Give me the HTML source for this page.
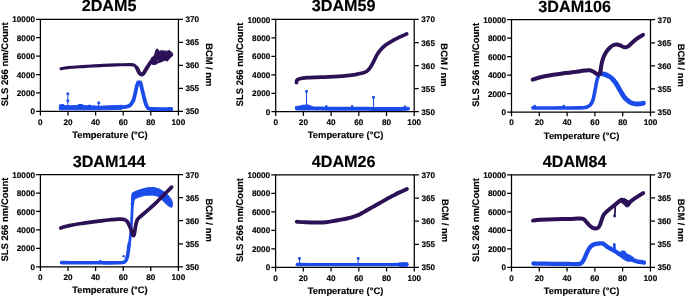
<!DOCTYPE html>
<html><head><meta charset="utf-8"><style>
html,body{margin:0;padding:0;background:#fff;width:685px;height:297px;overflow:hidden}
svg{display:block;filter:blur(0.35px)}
text{font-family:"Liberation Sans",sans-serif;font-weight:bold;stroke:#000;stroke-width:0.15px;text-rendering:geometricPrecision}
</style></head><body>
<svg width="685" height="297" viewBox="0 0 685 297" font-family="Liberation Sans, sans-serif" font-weight="bold" fill="#000">
<path d="M40.4 19.3H178.4V111.4H40.4Z" fill="none" stroke="#000" stroke-width="1.25"/>
<path d="M36.1 111.4H40.4M36.1 92.98H40.4M36.1 74.56H40.4M36.1 56.14H40.4M36.1 37.72H40.4M36.1 19.3H40.4M178.4 111.4H183M178.4 88.38H183M178.4 65.35H183M178.4 42.33H183M178.4 19.3H183M40.4 111.4V115.6M68 111.4V115.6M95.6 111.4V115.6M123.2 111.4V115.6M150.8 111.4V115.6M178.4 111.4V115.6" stroke="#000" stroke-width="1.25"/>
<text x="35" y="114.45" text-anchor="end" font-size="8.2">0</text>
<text x="35" y="96.03" text-anchor="end" font-size="8.2">2000</text>
<text x="35" y="77.61" text-anchor="end" font-size="8.2">4000</text>
<text x="35" y="59.19" text-anchor="end" font-size="8.2">6000</text>
<text x="35" y="40.77" text-anchor="end" font-size="8.2">8000</text>
<text x="35" y="22.35" text-anchor="end" font-size="8.2">10000</text>
<text x="185.5" y="114.4" font-size="8.2">350</text>
<text x="185.5" y="91.38" font-size="8.2">355</text>
<text x="185.5" y="68.35" font-size="8.2">360</text>
<text x="185.5" y="45.33" font-size="8.2">365</text>
<text x="185.5" y="22.3" font-size="8.2">370</text>
<text x="40.4" y="124.8" text-anchor="middle" font-size="8.2">0</text>
<text x="68" y="124.8" text-anchor="middle" font-size="8.2">20</text>
<text x="95.6" y="124.8" text-anchor="middle" font-size="8.2">40</text>
<text x="123.2" y="124.8" text-anchor="middle" font-size="8.2">60</text>
<text x="150.8" y="124.8" text-anchor="middle" font-size="8.2">80</text>
<text x="178.4" y="124.8" text-anchor="middle" font-size="8.2">100</text>
<text x="110" y="138" text-anchor="middle" font-size="9.4">Temperature (°C)</text>
<text x="109.1" y="11.4" text-anchor="middle" font-size="16.2">2DAM5</text>
<text transform="translate(7.7 64.25) rotate(-90)" text-anchor="middle" font-size="9.5">SLS 266 nm/Count</text>
<text transform="translate(205.6 64.75) rotate(90)" text-anchor="middle" font-size="9.4">BCM / nm</text>
<path d="M275.7 19.45H414.2V111.7H275.7Z" fill="none" stroke="#000" stroke-width="1.25"/>
<path d="M271.4 111.7H275.7M271.4 93.25H275.7M271.4 74.8H275.7M271.4 56.35H275.7M271.4 37.9H275.7M271.4 19.45H275.7M414.2 111.7H418.8M414.2 88.64H418.8M414.2 65.58H418.8M414.2 42.51H418.8M414.2 19.45H418.8M275.7 111.7V115.9M303.4 111.7V115.9M331.1 111.7V115.9M358.8 111.7V115.9M386.5 111.7V115.9M414.2 111.7V115.9" stroke="#000" stroke-width="1.25"/>
<text x="270.3" y="114.75" text-anchor="end" font-size="8.2">0</text>
<text x="270.3" y="96.3" text-anchor="end" font-size="8.2">2000</text>
<text x="270.3" y="77.85" text-anchor="end" font-size="8.2">4000</text>
<text x="270.3" y="59.4" text-anchor="end" font-size="8.2">6000</text>
<text x="270.3" y="40.95" text-anchor="end" font-size="8.2">8000</text>
<text x="270.3" y="22.5" text-anchor="end" font-size="8.2">10000</text>
<text x="421.3" y="114.7" font-size="8.2">350</text>
<text x="421.3" y="91.64" font-size="8.2">355</text>
<text x="421.3" y="68.58" font-size="8.2">360</text>
<text x="421.3" y="45.51" font-size="8.2">365</text>
<text x="421.3" y="22.45" font-size="8.2">370</text>
<text x="275.7" y="125.1" text-anchor="middle" font-size="8.2">0</text>
<text x="303.4" y="125.1" text-anchor="middle" font-size="8.2">20</text>
<text x="331.1" y="125.1" text-anchor="middle" font-size="8.2">40</text>
<text x="358.8" y="125.1" text-anchor="middle" font-size="8.2">60</text>
<text x="386.5" y="125.1" text-anchor="middle" font-size="8.2">80</text>
<text x="414.2" y="125.1" text-anchor="middle" font-size="8.2">100</text>
<text x="345.55" y="138.3" text-anchor="middle" font-size="9.4">Temperature (°C)</text>
<text x="343.65" y="11.4" text-anchor="middle" font-size="16.2">3DAM59</text>
<text transform="translate(243 64.48) rotate(-90)" text-anchor="middle" font-size="9.5">SLS 266 nm/Count</text>
<text transform="translate(441.4 64.98) rotate(90)" text-anchor="middle" font-size="9.4">BCM / nm</text>
<path d="M511.5 19.7H650.5V112H511.5Z" fill="none" stroke="#000" stroke-width="1.25"/>
<path d="M507.2 112H511.5M507.2 93.54H511.5M507.2 75.08H511.5M507.2 56.62H511.5M507.2 38.16H511.5M507.2 19.7H511.5M650.5 112H655.1M650.5 88.92H655.1M650.5 65.85H655.1M650.5 42.78H655.1M650.5 19.7H655.1M511.5 112V116.2M539.3 112V116.2M567.1 112V116.2M594.9 112V116.2M622.7 112V116.2M650.5 112V116.2" stroke="#000" stroke-width="1.25"/>
<text x="506.1" y="115.05" text-anchor="end" font-size="8.2">0</text>
<text x="506.1" y="96.59" text-anchor="end" font-size="8.2">2000</text>
<text x="506.1" y="78.13" text-anchor="end" font-size="8.2">4000</text>
<text x="506.1" y="59.67" text-anchor="end" font-size="8.2">6000</text>
<text x="506.1" y="41.21" text-anchor="end" font-size="8.2">8000</text>
<text x="506.1" y="22.75" text-anchor="end" font-size="8.2">10000</text>
<text x="657.6" y="115" font-size="8.2">350</text>
<text x="657.6" y="91.92" font-size="8.2">355</text>
<text x="657.6" y="68.85" font-size="8.2">360</text>
<text x="657.6" y="45.78" font-size="8.2">365</text>
<text x="657.6" y="22.7" font-size="8.2">370</text>
<text x="511.5" y="125.4" text-anchor="middle" font-size="8.2">0</text>
<text x="539.3" y="125.4" text-anchor="middle" font-size="8.2">20</text>
<text x="567.1" y="125.4" text-anchor="middle" font-size="8.2">40</text>
<text x="594.9" y="125.4" text-anchor="middle" font-size="8.2">60</text>
<text x="622.7" y="125.4" text-anchor="middle" font-size="8.2">80</text>
<text x="650.5" y="125.4" text-anchor="middle" font-size="8.2">100</text>
<text x="581.6" y="138.6" text-anchor="middle" font-size="9.4">Temperature (°C)</text>
<text x="574.7" y="11.5" text-anchor="middle" font-size="16.2">3DAM106</text>
<text transform="translate(478.8 64.75) rotate(-90)" text-anchor="middle" font-size="9.5">SLS 266 nm/Count</text>
<text transform="translate(677.7 65.25) rotate(90)" text-anchor="middle" font-size="9.4">BCM / nm</text>
<path d="M40.4 174.6H178.4V266.8H40.4Z" fill="none" stroke="#000" stroke-width="1.25"/>
<path d="M36.1 266.8H40.4M36.1 248.36H40.4M36.1 229.92H40.4M36.1 211.48H40.4M36.1 193.04H40.4M36.1 174.6H40.4M178.4 266.8H183M178.4 243.75H183M178.4 220.7H183M178.4 197.65H183M178.4 174.6H183M40.4 266.8V271M68 266.8V271M95.6 266.8V271M123.2 266.8V271M150.8 266.8V271M178.4 266.8V271" stroke="#000" stroke-width="1.25"/>
<text x="35" y="269.85" text-anchor="end" font-size="8.2">0</text>
<text x="35" y="251.41" text-anchor="end" font-size="8.2">2000</text>
<text x="35" y="232.97" text-anchor="end" font-size="8.2">4000</text>
<text x="35" y="214.53" text-anchor="end" font-size="8.2">6000</text>
<text x="35" y="196.09" text-anchor="end" font-size="8.2">8000</text>
<text x="35" y="177.65" text-anchor="end" font-size="8.2">10000</text>
<text x="185.5" y="269.8" font-size="8.2">350</text>
<text x="185.5" y="246.75" font-size="8.2">355</text>
<text x="185.5" y="223.7" font-size="8.2">360</text>
<text x="185.5" y="200.65" font-size="8.2">365</text>
<text x="185.5" y="177.6" font-size="8.2">370</text>
<text x="40.4" y="280.2" text-anchor="middle" font-size="8.2">0</text>
<text x="68" y="280.2" text-anchor="middle" font-size="8.2">20</text>
<text x="95.6" y="280.2" text-anchor="middle" font-size="8.2">40</text>
<text x="123.2" y="280.2" text-anchor="middle" font-size="8.2">60</text>
<text x="150.8" y="280.2" text-anchor="middle" font-size="8.2">80</text>
<text x="178.4" y="280.2" text-anchor="middle" font-size="8.2">100</text>
<text x="110" y="293.4" text-anchor="middle" font-size="9.4">Temperature (°C)</text>
<text x="109.1" y="166.7" text-anchor="middle" font-size="16.2">3DAM144</text>
<text transform="translate(7.7 219.6) rotate(-90)" text-anchor="middle" font-size="9.5">SLS 266 nm/Count</text>
<text transform="translate(205.6 220.1) rotate(90)" text-anchor="middle" font-size="9.4">BCM / nm</text>
<path d="M275.6 174.9H414.3V267.4H275.6Z" fill="none" stroke="#000" stroke-width="1.25"/>
<path d="M271.3 267.4H275.6M271.3 248.9H275.6M271.3 230.4H275.6M271.3 211.9H275.6M271.3 193.4H275.6M271.3 174.9H275.6M414.3 267.4H418.9M414.3 244.27H418.9M414.3 221.15H418.9M414.3 198.03H418.9M414.3 174.9H418.9M275.6 267.4V271.6M303.34 267.4V271.6M331.08 267.4V271.6M358.82 267.4V271.6M386.56 267.4V271.6M414.3 267.4V271.6" stroke="#000" stroke-width="1.25"/>
<text x="270.2" y="270.45" text-anchor="end" font-size="8.2">0</text>
<text x="270.2" y="251.95" text-anchor="end" font-size="8.2">2000</text>
<text x="270.2" y="233.45" text-anchor="end" font-size="8.2">4000</text>
<text x="270.2" y="214.95" text-anchor="end" font-size="8.2">6000</text>
<text x="270.2" y="196.45" text-anchor="end" font-size="8.2">8000</text>
<text x="270.2" y="177.95" text-anchor="end" font-size="8.2">10000</text>
<text x="421.4" y="270.4" font-size="8.2">350</text>
<text x="421.4" y="247.27" font-size="8.2">355</text>
<text x="421.4" y="224.15" font-size="8.2">360</text>
<text x="421.4" y="201.03" font-size="8.2">365</text>
<text x="421.4" y="177.9" font-size="8.2">370</text>
<text x="275.6" y="280.8" text-anchor="middle" font-size="8.2">0</text>
<text x="303.34" y="280.8" text-anchor="middle" font-size="8.2">20</text>
<text x="331.08" y="280.8" text-anchor="middle" font-size="8.2">40</text>
<text x="358.82" y="280.8" text-anchor="middle" font-size="8.2">60</text>
<text x="386.56" y="280.8" text-anchor="middle" font-size="8.2">80</text>
<text x="414.3" y="280.8" text-anchor="middle" font-size="8.2">100</text>
<text x="345.55" y="294" text-anchor="middle" font-size="9.4">Temperature (°C)</text>
<text x="343.65" y="167" text-anchor="middle" font-size="16.2">4DAM26</text>
<text transform="translate(242.9 220.05) rotate(-90)" text-anchor="middle" font-size="9.5">SLS 266 nm/Count</text>
<text transform="translate(441.5 220.55) rotate(90)" text-anchor="middle" font-size="9.4">BCM / nm</text>
<path d="M511.5 174.8H650.4V267.3H511.5Z" fill="none" stroke="#000" stroke-width="1.25"/>
<path d="M507.2 267.3H511.5M507.2 248.8H511.5M507.2 230.3H511.5M507.2 211.8H511.5M507.2 193.3H511.5M507.2 174.8H511.5M650.4 267.3H655M650.4 244.18H655M650.4 221.05H655M650.4 197.93H655M650.4 174.8H655M511.5 267.3V271.5M539.28 267.3V271.5M567.06 267.3V271.5M594.84 267.3V271.5M622.62 267.3V271.5M650.4 267.3V271.5" stroke="#000" stroke-width="1.25"/>
<text x="506.1" y="270.35" text-anchor="end" font-size="8.2">0</text>
<text x="506.1" y="251.85" text-anchor="end" font-size="8.2">2000</text>
<text x="506.1" y="233.35" text-anchor="end" font-size="8.2">4000</text>
<text x="506.1" y="214.85" text-anchor="end" font-size="8.2">6000</text>
<text x="506.1" y="196.35" text-anchor="end" font-size="8.2">8000</text>
<text x="506.1" y="177.85" text-anchor="end" font-size="8.2">10000</text>
<text x="657.5" y="270.3" font-size="8.2">350</text>
<text x="657.5" y="247.18" font-size="8.2">355</text>
<text x="657.5" y="224.05" font-size="8.2">360</text>
<text x="657.5" y="200.93" font-size="8.2">365</text>
<text x="657.5" y="177.8" font-size="8.2">370</text>
<text x="511.5" y="280.7" text-anchor="middle" font-size="8.2">0</text>
<text x="539.28" y="280.7" text-anchor="middle" font-size="8.2">20</text>
<text x="567.06" y="280.7" text-anchor="middle" font-size="8.2">40</text>
<text x="594.84" y="280.7" text-anchor="middle" font-size="8.2">60</text>
<text x="622.62" y="280.7" text-anchor="middle" font-size="8.2">80</text>
<text x="650.4" y="280.7" text-anchor="middle" font-size="8.2">100</text>
<text x="581.55" y="293.9" text-anchor="middle" font-size="9.4">Temperature (°C)</text>
<text x="574.65" y="166.9" text-anchor="middle" font-size="16.2">4DAM84</text>
<text transform="translate(478.8 219.95) rotate(-90)" text-anchor="middle" font-size="9.5">SLS 266 nm/Count</text>
<text transform="translate(677.6 220.45) rotate(90)" text-anchor="middle" font-size="9.4">BCM / nm</text>
<path d="M59.4 104.9L63.5 104.5L64.8 105.6L70 105.8L77 105.6L78.5 104.6L82.5 104.6L84 105.6L88 105.8L89.5 105L91 105.8L96 106.1L100 106.2L110 105.8L118 105.5L122 105.2L122 109.2L110 109.6L100 109.8L80 109.8L59.4 109.8Z" fill="#1b4be9" stroke="#1b4be9" stroke-width="1" stroke-linejoin="round"/>
<path d="M120 107.3C120.8 107.2 123.7 107.1 125 106.9C126.3 106.7 127.1 106.7 128 106.3C128.9 105.9 129.8 105.5 130.5 104.8C131.2 104.1 131.8 103.1 132.3 102.3C132.8 101.5 133.1 101.1 133.5 100C133.9 98.9 134.3 97 134.7 95.6C135 94.2 135.3 92.9 135.6 91.5C135.9 90.1 136.2 88.6 136.5 87.4C136.8 86.2 137 85.3 137.3 84.5C137.6 83.7 137.7 83.1 138.2 82.8C138.7 82.5 139.8 82.4 140.3 82.8C140.8 83.2 140.8 84 141.1 85C141.4 86 141.7 87.5 142 89C142.3 90.5 142.8 92.4 143.2 94C143.6 95.6 143.9 97.1 144.3 98.5C144.7 99.9 145 101.3 145.4 102.5C145.8 103.7 146.1 104.8 146.6 105.8C147.1 106.8 147.6 107.8 148.5 108.3C149.4 108.8 150.1 108.9 152 109C153.9 109.1 156.8 109.1 160 109.1C163.2 109.1 169.2 109.1 171 109.1" fill="none" stroke="#1b4be9" stroke-width="3.8" stroke-linecap="round" stroke-linejoin="round"/>
<rect x="136.6" y="80.7" width="4.9" height="3" fill="#1b4be9"/>
<rect x="168" y="107.2" width="4.7" height="3.8" fill="#1b4be9"/>
<path d="M67.8 93.7V107" stroke="#1b4be9" stroke-width="1"/>
<circle cx="67.8" cy="93.7" r="1.5" fill="#1b4be9"/>
<circle cx="67.8" cy="100.8" r="1.5" fill="#1b4be9"/>
<path d="M98.7 102.7V107" stroke="#1b4be9" stroke-width="1"/>
<circle cx="98.7" cy="102.7" r="1.5" fill="#1b4be9"/>
<circle cx="80.4" cy="105.5" r="1.4" fill="#1b4be9"/>
<circle cx="89.4" cy="106" r="1.2" fill="#1b4be9"/>
<path d="M61 68.7C61.7 68.6 63.3 68.2 65 68C66.7 67.8 68.9 67.5 71.4 67.3C73.9 67.1 77.3 67 80 66.8C82.7 66.6 84.5 66.5 87.8 66.3C91.1 66.1 96.3 65.8 100 65.6C103.7 65.4 106.4 65.2 109.7 65.1C113 65 116.6 64.9 120 64.8C123.4 64.7 127.7 64.5 130 64.6C132.3 64.7 132.9 64.6 134.1 65.2C135.3 65.8 136.2 67.1 137.1 68.4C138 69.7 138.7 72 139.4 73C140.2 74 141.2 74.3 141.6 74.6" fill="none" stroke="#2c1156" stroke-width="3.1" stroke-linecap="round" stroke-linejoin="round"/>
<path d="M137.1 68.4C137.5 69.2 138.7 72 139.4 73C140.2 74 140.9 74.5 141.6 74.6C142.3 74.7 142.9 74.3 143.5 73.6C144.1 72.9 144.6 71.8 145.3 70.6C146 69.4 146.8 67.9 147.7 66.6C148.6 65.2 149.6 63.8 150.5 62.5C151.4 61.2 152.6 59.6 153 59" fill="none" stroke="#2c1156" stroke-width="3.9" stroke-linecap="round" stroke-linejoin="round"/>
<path d="M151.5 58L153 56.5L154.5 55.4L155.3 52L156.5 49.1L158 49.3L158.7 51.5L160.9 50.8L164.4 50.9L166.9 51.3L169.4 50.5L171.5 52.2L172.8 53.8L172.4 56L170.3 57.6L168.6 59.7L167.3 61.2L165.2 60.2L162 61.4L160.4 62.2L158.2 62.7L156 64.2L154.3 64.6L152.5 64.5L151.5 62Z" fill="#2c1156" stroke="#2c1156" stroke-width="1" stroke-linejoin="round"/>
<circle cx="157.6" cy="60.6" r="0.9" fill="#6a5a88"/>
<path d="M297 108.5C299.2 108.5 304.5 108.5 310 108.5C315.5 108.5 323.3 108.7 330 108.7C336.7 108.8 342.5 108.8 350 108.8C357.5 108.8 366.7 108.9 375 108.9C383.3 108.9 394.5 108.9 400 108.9C405.5 108.9 406.7 108.8 408 108.8" fill="none" stroke="#1b4be9" stroke-width="4" stroke-linecap="round" stroke-linejoin="round"/>
<path d="M295.5 106.6L300 106L303 105.2L308 104.9L311 106L313 107L295.5 108.5Z" fill="#1b4be9" stroke="#1b4be9" stroke-width="1" stroke-linejoin="round"/>
<path d="M306.5 91.3V107" stroke="#1b4be9" stroke-width="1"/>
<rect x="305.2" y="90" width="2.6" height="2.6" fill="#1b4be9"/>
<path d="M373.5 97.3V108" stroke="#1b4be9" stroke-width="1"/>
<rect x="372.2" y="96" width="2.6" height="2.6" fill="#1b4be9"/>
<rect x="325.2" y="105.2" width="2.2" height="2.2" fill="#1b4be9"/>
<rect x="351" y="105.2" width="2.2" height="2.2" fill="#1b4be9"/>
<rect x="403.7" y="105.5" width="2.2" height="2.2" fill="#1b4be9"/>
<path d="M296.5 82.6C296.6 82.2 296.5 80.8 296.9 80.2C297.3 79.6 298 79.3 299 79C300 78.7 301.6 78.4 303 78.2C304.4 78 305.3 77.9 307.5 77.7C309.7 77.5 313.4 77.4 316.3 77.3C319.2 77.2 322.1 77.2 325 77.1C327.9 77 330.9 76.8 333.8 76.6C336.7 76.4 339.8 76.3 342.5 76.1C345.2 75.9 347.9 75.7 350 75.4C352.1 75.2 353.1 74.9 355 74.6C356.9 74.2 359.7 73.8 361.7 73.3C363.7 72.8 365.4 72.2 366.8 71.3C368.2 70.4 369 69.4 370.1 67.8C371.2 66.2 372.4 64 373.5 61.9C374.6 59.8 375.7 57.2 376.8 55.2C377.9 53.2 378.9 51.7 380.2 50.2C381.5 48.7 382.8 47.3 384.4 46C385.9 44.7 387.7 43.7 389.5 42.6C391.3 41.5 393.2 40.3 395 39.3C396.8 38.3 398.6 37.6 400.5 36.7C402.4 35.8 405.7 34.4 406.7 33.9" fill="none" stroke="#2c1156" stroke-width="3.7" stroke-linecap="round" stroke-linejoin="round"/>
<path d="M532.9 107.9C534.1 107.9 537.1 108 540 108C542.9 108 546.7 108 550 108C553.3 108 556.7 107.9 560 107.9C563.3 107.9 566.7 108 570 108C573.3 108 577.5 108 580 107.9C582.5 107.8 583.8 107.7 585 107.5C586.2 107.3 586.4 107.4 587.4 106.9C588.4 106.4 589.9 105.6 590.8 104.4C591.7 103.2 592.4 101.8 593 99.9C593.6 98 594.1 95.3 594.5 93.2C594.9 91.1 595.2 89.3 595.6 87.3C596 85.3 596.3 83.1 596.7 81.4C597.1 79.7 597.6 78.1 598.1 76.9C598.6 75.7 598.9 74.7 599.5 74C600.1 73.3 601.2 73.2 601.5 73" fill="none" stroke="#1b4be9" stroke-width="3.6" stroke-linecap="round" stroke-linejoin="round"/>
<path d="M600 73.4C600.9 73.6 603.8 74.1 605.4 74.6C607 75.1 608.2 75.8 609.4 76.5C610.6 77.2 611.6 78.1 612.5 79C613.4 79.9 614.2 80.9 615 82C615.8 83.1 616.6 84.3 617.3 85.5C618 86.7 618.6 87.9 619.3 89C619.9 90.1 620.6 91.2 621.2 92.3C621.9 93.4 622.5 94.5 623.2 95.5C623.9 96.5 624.6 97.6 625.5 98.5C626.4 99.4 627.2 100.2 628.3 101C629.4 101.8 630.9 102.7 632.3 103.2C633.6 103.7 635.1 103.9 636.4 104C637.7 104.1 638.8 103.9 640 103.8C641.2 103.7 642.9 103.3 643.5 103.2" fill="none" stroke="#1b4be9" stroke-width="4.8" stroke-linecap="round" stroke-linejoin="round"/>
<circle cx="534.7" cy="106" r="1.3" fill="#1b4be9"/>
<circle cx="563.8" cy="106" r="1.3" fill="#1b4be9"/>
<path d="M532.7 79.6C534 79.2 537.3 77.9 540.3 77.2C543.3 76.5 547.1 75.8 550.5 75.2C553.9 74.6 557.4 74.2 560.8 73.7C564.2 73.2 568.5 72.8 571 72.5C573.5 72.2 574.3 72 576 71.8C577.7 71.5 579.7 71.2 581.2 71C582.7 70.8 583.6 70.6 585 70.5C586.4 70.4 588.1 70.2 589.4 70.3C590.7 70.4 591.5 70.8 592.6 71.3C593.7 71.8 594.9 72.8 595.8 73.3C596.7 73.8 597.5 74.4 598.2 74.5C598.9 74.6 599.5 74.6 599.9 73.7C600.3 72.8 600.4 71.2 600.7 69.3C601 67.4 601.4 64.6 601.9 62.5C602.4 60.4 603.1 58.3 603.8 56.5C604.5 54.7 605.3 53.3 606.3 51.8C607.3 50.3 608.8 48.6 610 47.5C611.2 46.4 612.5 45.5 613.6 45C614.8 44.5 615.8 44.3 616.9 44.4C618 44.5 619 44.9 620.3 45.4C621.5 45.9 623 47.2 624.4 47.3C625.8 47.4 627 47 628.8 45.8C630.6 44.5 632.9 41.6 635.3 39.8C637.7 38 641.7 35.7 643 34.9" fill="none" stroke="#2c1156" stroke-width="4.0" stroke-linecap="round" stroke-linejoin="round"/>
<path d="M61.5 262.6C62.9 262.6 66.9 262.7 70 262.7C73.1 262.7 76.7 262.8 80 262.8C83.3 262.8 86.7 262.8 90 262.8C93.3 262.8 96.7 262.8 100 262.8C103.3 262.8 107 262.9 110 262.9C113 262.9 115.7 262.9 118 262.8C120.3 262.7 122.4 262.8 123.7 262.4C125 262 125.3 261.4 125.9 260.5C126.5 259.6 126.9 258.5 127.3 256.9C127.7 255.3 128 253.3 128.3 251.1C128.6 248.9 129 245 129.2 243.8" fill="none" stroke="#1b4be9" stroke-width="3.6" stroke-linecap="round" stroke-linejoin="round"/>
<path d="M129.5 243.8C129.6 242.6 130 239 130.3 236.6C130.6 234.2 130.8 232.9 131.1 229.3C131.4 225.7 131.7 219.4 131.9 215C132.1 210.6 132.3 206.3 132.5 203C132.7 199.7 132.8 196.3 132.9 195" fill="none" stroke="#1b4be9" stroke-width="2.8" stroke-linecap="round" stroke-linejoin="round" stroke-dasharray="2.4 0.7"/>
<path d="M132.2 193.1L135.1 191.6L140.2 189.6L147.2 187.8L154.3 187.5L159.3 189.1L164.4 192.1L168.4 195.6L171.5 199.7L172.5 203.2L172 207.2L169.4 206.7L165.4 203.2L161.4 199.2L157.3 196.1L152.3 195.1L145.2 195.3L139.1 197L135.1 198.8L134.1 200L133.5 205L131.2 205Z" fill="#1b4be9" stroke="#1b4be9" stroke-width="1" stroke-linejoin="round"/>
<circle cx="123.7" cy="256.2" r="1.2" fill="#1b4be9"/>
<circle cx="100.5" cy="261" r="1.2" fill="#1b4be9"/>
<path d="M60.8 228C61.5 227.8 63.4 227 65 226.6C66.6 226.2 68.1 225.8 70.3 225.4C72.5 225 75.4 224.4 78 224C80.6 223.6 83.2 223.3 85.7 222.9C88.2 222.5 90.5 222.2 93 221.8C95.5 221.5 98.5 221.1 101 220.8C103.5 220.5 105.5 220.2 108 220C110.5 219.8 114.1 219.5 116.3 219.3C118.5 219.2 119.7 219.1 121 219.1C122.3 219.1 123 219.1 124 219.5C125 219.9 126 219.8 127.1 221.4C128.2 223 129.9 226.8 130.8 229C131.7 231.2 132 233.9 132.6 234.8C133.2 235.7 133.7 236.1 134.2 234.6C134.7 233.1 135.1 228.3 135.6 226C136.1 223.7 136.4 221.9 137 220.5C137.6 219.1 137.5 219.2 139.2 217.6C140.9 216 144.6 213.1 147.3 210.7C150 208.3 152.7 206 155.4 203.4C158.1 200.8 160.8 198 163.5 195.3C166.2 192.6 170.2 188.5 171.6 187.1" fill="none" stroke="#2c1156" stroke-width="3.7" stroke-linecap="round" stroke-linejoin="round"/>
<path d="M297.2 264.5C299.3 264.5 304.5 264.6 310 264.6C315.5 264.6 323.3 264.6 330 264.6C336.7 264.6 343.3 264.6 350 264.6C356.7 264.6 363.3 264.6 370 264.6C376.7 264.6 384.7 264.6 390 264.6C395.3 264.6 399.2 264.5 402 264.5C404.8 264.5 406.2 264.4 407 264.4" fill="none" stroke="#1b4be9" stroke-width="3.4" stroke-linecap="round" stroke-linejoin="round"/>
<path d="M399 262.9L407.3 262.7L408 264.5L407.3 266.2L399 266.2Z" fill="#1b4be9" stroke="#1b4be9" stroke-width="1" stroke-linejoin="round"/>
<path d="M299.5 258.4V263" stroke="#1b4be9" stroke-width="1"/>
<rect x="298.2" y="257.1" width="2.6" height="2.6" fill="#1b4be9"/>
<path d="M358.2 258.4V263" stroke="#1b4be9" stroke-width="1"/>
<rect x="356.9" y="257.1" width="2.6" height="2.6" fill="#1b4be9"/>
<path d="M296.8 221.7C298.2 221.8 301.9 222.2 305.3 222.3C308.7 222.4 314 222.5 317.4 222.5C320.8 222.5 322.9 222.5 325.8 222.2C328.7 221.9 332.5 221.2 335 220.8C337.5 220.4 339 220.1 341 219.7C343 219.3 345.1 218.9 346.8 218.5C348.6 218.1 349.9 217.8 351.5 217.3C353.1 216.9 354.9 216.3 356.2 215.8C357.5 215.3 358.5 215 359.5 214.5C360.5 214 361 213.6 362.1 213C363.2 212.4 364.6 211.5 366 210.7C367.4 209.9 368.9 209.1 370.4 208.3C371.9 207.5 373.4 206.6 375 205.7C376.6 204.8 378.3 203.8 379.8 203C381.3 202.2 382.6 201.4 384 200.6C385.4 199.8 386.8 199 388 198.3C389.2 197.6 390.3 197 391.5 196.4C392.7 195.8 393.7 195.4 395 194.7C396.3 194 397.5 193.3 399.5 192.4C401.5 191.5 405.7 189.6 406.9 189" fill="none" stroke="#2c1156" stroke-width="3.9" stroke-linecap="round" stroke-linejoin="round"/>
<path d="M533.4 263.5C535.3 263.5 540.6 263.6 545 263.6C549.4 263.7 555.8 263.8 560 263.8C564.2 263.9 567.2 263.8 570 263.9C572.8 263.9 574.7 264.2 576.5 264.1C578.3 264 579.6 264.1 580.8 263.5C582 262.9 582.6 261.8 583.5 260.3C584.4 258.8 585.3 256.2 586.2 254.3C587.1 252.4 588 250.3 588.9 248.9C589.8 247.5 590.6 246.5 591.6 245.7C592.6 244.9 593.5 244.5 594.8 244.1C596 243.7 597.9 243.6 599.1 243.5C600.4 243.4 601.4 243.2 602.3 243.4C603.2 243.6 603.6 243.9 604.5 244.5C605.4 245.1 606.5 246.4 607.7 247.2C609 248 610.6 248.7 612 249.5C613.4 250.3 615 251.2 616.3 252C617.6 252.8 618.5 254 619.6 254.4C620.7 254.8 621.7 254.2 622.8 254.5C623.9 254.8 625.1 255.8 626 256.5C626.9 257.2 627.3 258.1 628 258.5C628.7 258.9 629.4 258.6 630.3 258.9C631.2 259.2 632.3 259.7 633.6 260.2C634.9 260.7 636.5 261.4 637.9 261.7C639.3 262 641.2 262 642.2 262.2C643.2 262.4 643.7 262.5 644 262.6" fill="none" stroke="#1b4be9" stroke-width="4.3" stroke-linecap="round" stroke-linejoin="round"/>
<path d="M614.3 244.3 L614.5 249" fill="none" stroke="#1b4be9" stroke-width="2.6" stroke-linecap="round" stroke-linejoin="round"/>
<path d="M619.5 252.8L622 250.9L625 251.3L626.8 254.2L630 255.3L633.5 257.6L633.5 260.8L628 261.3L624.5 259.8L620.5 257Z" fill="#1b4be9" stroke="#1b4be9" stroke-width="1" stroke-linejoin="round"/>
<path d="M533 220.6C534.2 220.4 536.5 219.9 540.3 219.7C544.1 219.5 551.1 219.3 555.7 219.2C560.3 219.1 564.8 219.1 568 219C571.2 218.9 573 218.8 575 218.7C577 218.6 578.6 218.3 580 218.4C581.4 218.5 582.4 218.5 583.4 219C584.4 219.5 585 220.4 585.9 221.3C586.8 222.2 587.5 223.4 588.5 224.4C589.5 225.4 590.7 226.6 591.8 227.3C592.9 228 594.1 228.6 595.2 228.6C596.3 228.6 597.8 227.9 598.6 227.2C599.4 226.5 599.7 225.6 600.2 224.3C600.8 223 601.3 220.9 601.9 219.3C602.5 217.8 602.9 216.2 603.6 215C604.3 213.8 604.9 213.2 606.1 212.1C607.3 211 609.1 209.4 610.6 208.2C612.1 206.9 613.7 205.8 615.2 204.6C616.7 203.4 618.6 201.6 619.7 200.8C620.8 200 621 199.8 622 199.8C623 199.8 624.5 200.3 625.5 201C626.5 201.7 626.8 203.8 627.7 203.8C628.7 203.8 629.9 202 631.2 201C632.6 200 634.3 198.7 635.8 197.7C637.3 196.7 639.1 195.7 640.3 194.9C641.5 194.1 642.7 193.4 643.2 193.1" fill="none" stroke="#2c1156" stroke-width="4.0" stroke-linecap="round" stroke-linejoin="round"/>
<path d="M621 198.5L625 198.8L628 201L631 200.5L630.5 204L628.5 206.8L626 206.8L623.5 204L620.5 202Z" fill="#2c1156" stroke="#2c1156" stroke-width="1" stroke-linejoin="round"/>
<path d="M615.2 206C615.2 207 615.1 210.3 615 212C614.9 213.7 614.7 215.3 614.6 216" fill="none" stroke="#2c1156" stroke-width="1.8" stroke-linecap="round" stroke-linejoin="round"/>
<circle cx="614.6" cy="216" r="1.4" fill="#2c1156"/>
</svg>
</body></html>
